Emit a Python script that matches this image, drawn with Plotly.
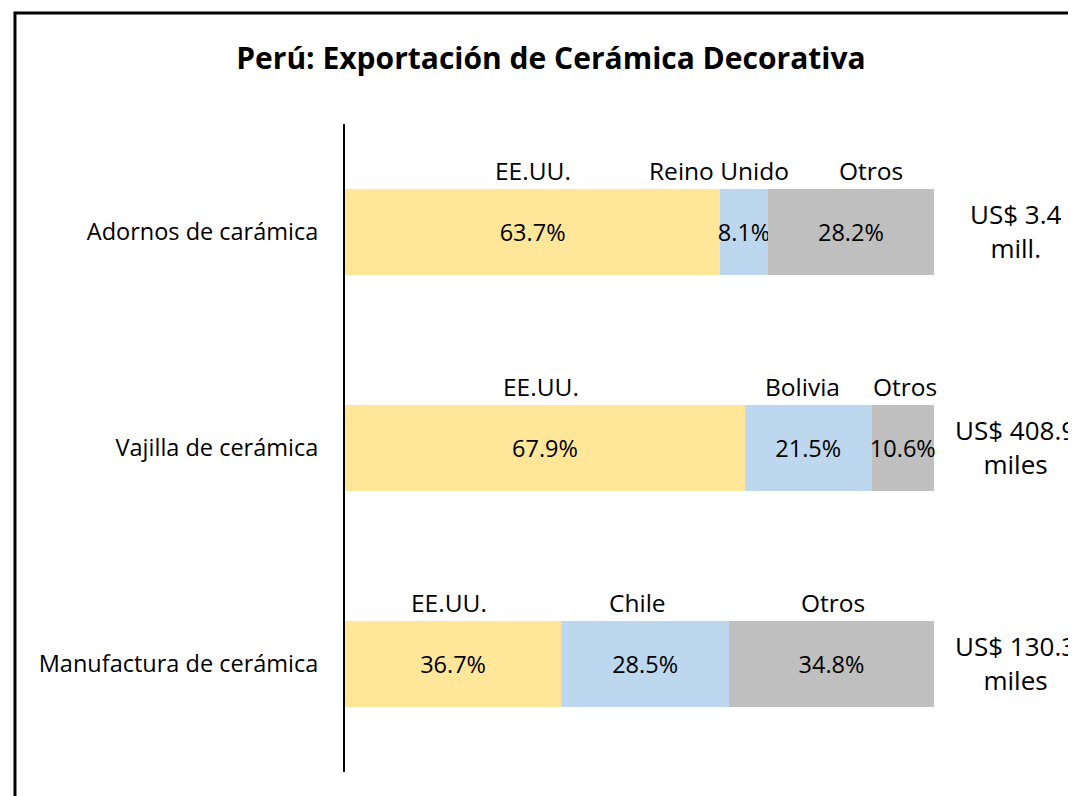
import plotly.graph_objects as go

categories = ["Adornos de carámica", "Vajilla de cerámica", "Manufactura de cerámica"]
first_vals = [63.7, 67.9, 36.7]
second_vals = [8.1, 21.5, 28.5]
third_vals = [28.2, 10.6, 34.8]
first_names = ["EE.UU.", "EE.UU.", "EE.UU."]
second_names = ["Reino Unido", "Bolivia", "Chile"]
third_names = ["Otros", "Otros", "Otros"]
totals = ["US$ 3.4<br>mill.", "US$ 408.9<br>miles", "US$ 130.3<br>miles"]

colors = ["#FFE699", "#BDD7EE", "#BFBFBF"]
FONT = "Open Sans, Lato, sans-serif"

fig = go.Figure()
for vals, col in zip([first_vals, second_vals, third_vals], colors):
    fig.add_trace(go.Bar(
        y=categories, x=vals, orientation="h", marker=dict(color=col, line=dict(width=0)),
        texttemplate="%{x:.1f}%", textposition="inside", insidetextanchor="middle",
        constraintext="none", textangle=0,
        textfont=dict(family=FONT, size=23.5, color="black"), cliponaxis=False,
        showlegend=False, hoverinfo="skip"))

annotations = []
for i, cat in enumerate(categories):
    starts = [0, first_vals[i], first_vals[i] + second_vals[i]]
    widths = [first_vals[i], second_vals[i], third_vals[i]]
    names = [first_names[i], second_names[i], third_names[i]]
    shifts = [[0, -25, 20], [-4, -6, 2], [-4, -8, 1]][i]
    for s, w, n, sh in zip(starts, widths, names, shifts):
        annotations.append(dict(x=s + w / 2, y=cat, xref="x", yref="y", text=n,
                                showarrow=False, yshift=62, xshift=sh,
                                font=dict(family=FONT, size=24.5, color="black")))
    annotations.append(dict(x=1.139, y=cat, xref="paper", yref="y", text=totals[i],
                            showarrow=False, yshift=1, xanchor="center",
                            font=dict(family=FONT, size=26, color="black")))

fig.update_layout(
    width=1076, height=796,
    margin=dict(l=337, r=150, t=116, b=32, autoexpand=False),
    barmode="stack", bargap=0.605,
    plot_bgcolor="white", paper_bgcolor="white",
    title=dict(text="<b>Perú: Exportación de Cerámica Decorativa</b>",
               xref="container", yref="container", x=0.5046, y=0.937,
               xanchor="center", yanchor="middle",
               font=dict(family=FONT, size=30, color="black")),
    xaxis=dict(range=[0, 100], visible=False, fixedrange=True),
    yaxis=dict(autorange="reversed", showline=True, linecolor="black", linewidth=2,
               showgrid=False, ticks="", ticklabelstandoff=20,
               tickfont=dict(family=FONT, size=23.5, color="black")),
    annotations=annotations,
    shapes=[dict(type="rect", xref="paper", yref="paper",
                 x0=-0.5603, x1=1.6, y0=-0.5, y1=1.1713,
                 line=dict(color="black", width=3), fillcolor="rgba(0,0,0,0)",
                 layer="above")],
)

fig.write_html("out.html")
